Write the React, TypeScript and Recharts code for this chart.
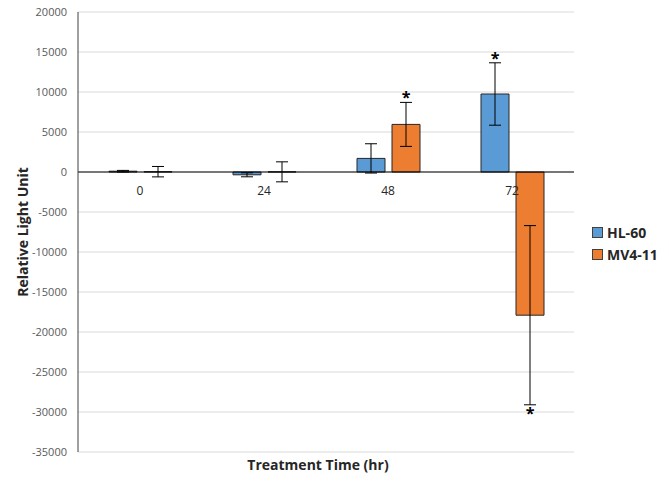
import React from 'react'
import {
  ComposedChart,
  Bar,
  Scatter,
  ErrorBar,
  XAxis,
  YAxis,
  CartesianGrid,
  ReferenceLine,
  Legend,
  LabelList,
} from 'recharts'

const FONT = '"Open Sans", "Liberation Sans", sans-serif'
const TEXT_COLOR = '#595959'
const HL_COLOR = '#5b9bd5'
const MV_COLOR = '#ed7d31'

// treatment times (hr)
const TIMES = ['0', '24', '48', '72']
// HL-60 mean + error
const HL60 = [100, -350, 1700, 9750]
const HL60_ERR = [100, 250, 1830, 3900]
const HL60_SIG = [false, false, false, true]
// MV4-11 mean + error
const MV411 = [40, 20, 5950, -17900]
const MV411_ERR = [650, 1250, 2750, 11200]
const MV411_SIG = [false, false, true, true]

const Y_TICKS = [20000, 15000, 10000, 5000, 0, -5000, -10000, -15000, -20000, -25000, -30000, -35000]

const data = TIMES.map((t, i) => ({
  time: t,
  hl60: HL60[i],
  hl60Err: HL60_ERR[i],
  mv411: MV411[i],
  mv411Err: MV411_ERR[i],
  base: 0,
}))

// draws a "*" beyond the end of the error bar, using the bar's own pixel scale
function starLabel(values: number[], errs: number[], sig: boolean[]) {
  return (props: any) => {
    const { x, y, width, height, value } = props
    const i = values.indexOf(Number(value))
    if (i < 0 || !sig[i]) return null
    const v = values[i]
    const e = errs[i]
    const top = Math.min(y, y + height)
    const bottom = Math.max(y, y + height)
    const zero = v >= 0 ? bottom : top
    const ppu = Math.abs(height) / Math.abs(v)
    const cx = x + width / 2
    if (v >= 0) {
      const ey = zero - (v + e) * ppu
      return (
        <text x={cx} y={ey + 1} textAnchor="middle" fontSize={16} fontWeight="bold" fill="#000" fontFamily={FONT}>
          *
        </text>
      )
    }
    const ey = zero - (v - e) * ppu
    return (
      <text x={cx} y={ey + 14} textAnchor="middle" fontSize={16} fontWeight="bold" fill="#000" fontFamily={FONT}>
        *
      </text>
    )
  }
}

function LegendBox({ payload }: any) {
  const items = (payload || []).filter((p: any) => p.value === 'HL-60' || p.value === 'MV4-11')
  return (
    <div style={{ fontFamily: FONT }}>
      {items.map((p: any) => (
        <div key={p.value} style={{ display: 'flex', alignItems: 'center', height: 22 }}>
          <span
            style={{
              display: 'inline-block',
              width: 9,
              height: 9,
              background: p.color,
              border: '1px solid #404040',
              marginRight: 4,
            }}
          />
          <span style={{ fontSize: 14, fontWeight: 'bold', color: '#262626' }}>{p.value}</span>
        </div>
      ))}
    </div>
  )
}

export default function App() {
  return (
    <div style={{ position: 'absolute', left: 0, top: 0, background: '#fff' }}>
      <ComposedChart
        width={669}
        height={486}
        data={data}
        margin={{ top: 12, right: 15, bottom: 4, left: 8 }}
        barSize={28}
        barGap={7}
      >
        <CartesianGrid vertical={false} stroke="#d9d9d9" />
        <XAxis
          dataKey="time"
          height={30}
          tick={false}
          tickLine={false}
          axisLine={false}
          label={{
            content: (p: any) => {
              const vb = p.viewBox
              return (
                <text
                  x={vb.x + vb.width / 2 - 8}
                  y={vb.y + 18}
                  textAnchor="middle"
                  fontFamily={FONT}
                  fontSize={14}
                  fontWeight="bold"
                  fill="#262626"
                >
                  Treatment Time (hr)
                </text>
              )
            },
          }}
        />
        <YAxis
          domain={[-35000, 20000]}
          ticks={Y_TICKS}
          interval={0}
          width={70}
          tickLine={false}
          tickMargin={5}
          axisLine={{ stroke: '#404040' }}
          tick={{ fill: TEXT_COLOR, fontSize: 11, fontFamily: FONT }}
          label={{
            content: (p: any) => {
              const vb = p.viewBox
              const cx = vb.x + 14
              const cy = vb.y + vb.height / 2
              return (
                <text
                  x={cx}
                  y={cy}
                  transform={`rotate(-90 ${cx} ${cy})`}
                  textAnchor="middle"
                  dominantBaseline="central"
                  fontFamily={FONT}
                  fontSize={14}
                  fontWeight="bold"
                  fill="#262626"
                >
                  Relative Light Unit
                </text>
              )
            },
          }}
        />
        <Legend
          layout="vertical"
          verticalAlign="top"
          align="right"
          content={<LegendBox />}
          wrapperStyle={{ left: 592, top: 221, width: 80 }}
        />
        <Bar dataKey="hl60" name="HL-60" fill={HL_COLOR} stroke="#262626" strokeWidth={1} isAnimationActive={false}>
          <ErrorBar dataKey="hl60Err" width={6} stroke="#000" strokeWidth={1} direction="y" />
          <LabelList dataKey="hl60" content={starLabel(HL60, HL60_ERR, HL60_SIG)} />
        </Bar>
        <Bar dataKey="mv411" name="MV4-11" fill={MV_COLOR} stroke="#262626" strokeWidth={1} isAnimationActive={false}>
          <ErrorBar dataKey="mv411Err" width={6} stroke="#000" strokeWidth={1} direction="y" />
          <LabelList dataKey="mv411" content={starLabel(MV411, MV411_ERR, MV411_SIG)} />
        </Bar>
        <ReferenceLine y={0} stroke="#000" strokeWidth={1} />
        <Scatter dataKey="base" name="labels" fill="none" legendType="none" isAnimationActive={false} shape={() => null}>
          <LabelList
            dataKey="time"
            position="bottom"
            offset={10}
            fill="#262626"
            fontSize={12}
            fontFamily={FONT}
          />
        </Scatter>
      </ComposedChart>
    </div>
  )
}
